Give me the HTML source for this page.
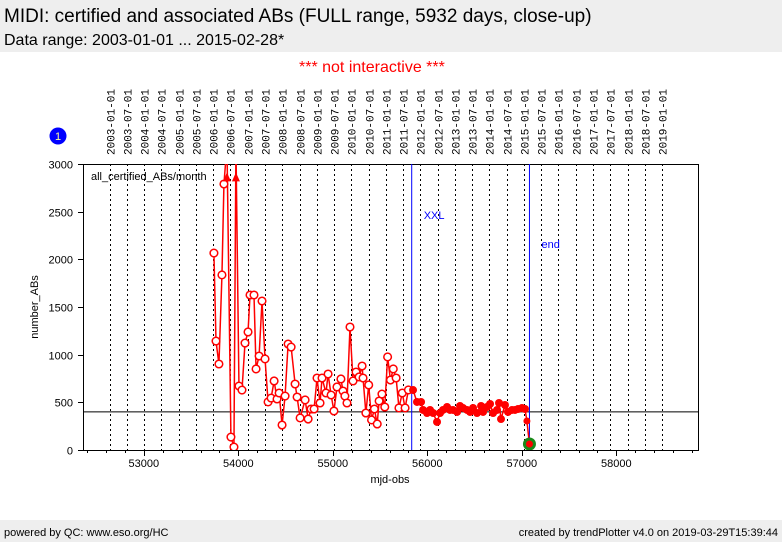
<!DOCTYPE html>
<html><head><meta charset="utf-8"><style>
body{margin:0;width:782px;height:542px;background:#fff;overflow:hidden;font-family:"Liberation Sans",sans-serif;position:relative}
.t{position:absolute;white-space:nowrap}
</style></head><body>
<div style="position:absolute;left:0;top:0;width:782px;height:52px;background:#eeeeee"></div>
<div class="t" style="left:4px;top:6px;font-size:19px">MIDI: certified and associated ABs (FULL range, 5932 days, close-up)</div>
<div class="t" style="left:4px;top:32px;font-size:16px">Data range: 2003-01-01 ... 2015-02-28*</div>
<div class="t" style="left:299px;top:59px;font-size:16px;color:#ff0000">*** not interactive ***</div>
<div style="position:absolute;left:0;top:520px;width:782px;height:22px;background:#eeeeee"></div>
<div class="t" style="left:4px;top:527px;font-size:11px">powered by QC: www.eso.org/HC</div>
<div class="t" style="right:4px;top:527px;font-size:11px">created by trendPlotter v4.0 on 2019-03-29T15:39:44</div>
<svg id="chart" width="782" height="542" style="position:absolute;left:0;top:0" font-family="Liberation Sans, sans-serif"></svg>
<script>
const openMjd=[53742,53764,53795,53827,53848,53880,53922,53954,53975,54007,54039,54071,54103,54124,54166,54188,54220,54251,54283,54315,54347,54379,54410,54432,54463,54495,54527,54559,54601,54622,54654,54707,54739,54770,54802,54833,54865,54886,54928,54950,54982,55012,55044,55086,55108,55128,55150,55182,55214,55246,55278,55310,55320,55350,55380,55410,55440,55470,55490,55520,55550,55580,55610,55640,55670,55700,55735,55765,55800];
const openVal=[2066,1143,902,1836,2790,3200,136,31,3200,671,629,1122,1238,1626,1626,850,986,1563,955,504,545,724,535,598,262,566,1112,1080,692,556,336,525,325,430,430,755,493,755,598,797,577,409,661,745,619,566,493,1290,724,818,766,881,755,388,682,315,430,273,514,587,451,976,734,850,755,441,598,441,630];
const filledMjd=[55849,55891,55934,55955,55997,56029,56061,56103,56135,56166,56209,56240,56272,56315,56346,56378,56420,56452,56484,56526,56569,56590,56632,56664,56696,56738,56759,56780,56822,56854,56896,56928,56960,57002,57034];
const filledVal=[629,504,504,420,388,420,388,294,388,420,451,420,420,399,462,441,420,399,441,388,462,399,451,483,388,420,493,325,472,399,420,420,430,441,430];
const endMjd=[57054,57081];
const endVal=[304,63];
const yTicks=[0,500,1000,1500,2000,2500,3000];
const xTicks=[53000,54000,55000,56000,57000,58000];
const refLine=400;
const xxlMjd=55835, endLineMjd=57081;
const dateLabels=[];for(let y=2003;y<=2019;y++){dateLabels.push(y+"-01-01");if(y<2019)dateLabels.push(y+"-07-01");}

const L=83,R=698,T=164,B=450;
const X=m=>143.8+(m-53000)*0.0945;
const Y=v=>B-v*(B-T)/3000;
const NS="http://www.w3.org/2000/svg";
const svg=document.getElementById('chart');
function el(t,a,p){const e=document.createElementNS(NS,t);for(const k in a)e.setAttribute(k,a[k]);(p||svg).appendChild(e);return e;}
function mjdOf(s){const [y,m,d]=s.split('-').map(Number);return Date.UTC(y,m-1,d)/86400000+40587;}

dateLabels.forEach(s=>{const x=Math.round(X(mjdOf(s)))+0.5;
 const ln=el('line',{x1:x,x2:x,y1:T,y2:B,stroke:'#000','stroke-width':1,'stroke-dasharray':'2,3'});
 
 const t=el('text',{transform:`translate(${x+4},155) rotate(-90)`,'font-size':11,'font-family':'Liberation Mono, monospace'});
 t.textContent=s;});
const fr=el('rect',{x:L+0.5,y:T+0.5,width:R-L,height:B-T,fill:'none',stroke:'#000'});

yTicks.forEach(v=>{const y=Math.round(Y(v))+0.5;el('line',{x1:L-5,x2:L,y1:y,y2:y,stroke:'#000'});
 const t=el('text',{x:73,y:y+4,'text-anchor':'end','font-size':11});t.textContent=v;
 });
for(let m=52400;m<=58800;m+=200){const x=Math.round(X(m))+0.5;if(x<L||x>R)continue;
 const maj=m%1000===0;el('line',{x1:x,x2:x,y1:B,y2:B+(maj?6:3),stroke:'#000'});}
xTicks.forEach(m=>{const t=el('text',{x:X(m),y:467,'text-anchor':'middle','font-size':11});t.textContent=m;
 });
const xl=el('text',{x:390,y:483,'text-anchor':'middle','font-size':11});xl.textContent='mjd-obs';

const yl=el('text',{transform:'translate(38,307) rotate(-90)','text-anchor':'middle','font-size':11});yl.textContent='number_ABs';

const rl=el('line',{x1:L,x2:R,y1:Y(refLine),y2:Y(refLine),stroke:'#000'});

const bl=el('line',{x1:X(xxlMjd),x2:X(xxlMjd),y1:T,y2:B,stroke:'#0000ff'});

const xt=el('text',{x:X(xxlMjd)+12,y:219,fill:'#0000ff','font-size':11});xt.textContent='XXL';

const el2=el('line',{x1:X(endLineMjd),x2:X(endLineMjd),y1:T,y2:B,stroke:'#0000ff'});

const et=el('text',{x:X(endLineMjd)+12,y:248,fill:'#0000ff','font-size':11});et.textContent='end';

const cp=el('clipPath',{id:'clip'});el('rect',{x:L,y:T,width:R-L,height:B-T},cp);
const g=el('g',{'clip-path':'url(#clip)'});
const allM=openMjd.concat(filledMjd,endMjd),allV=openVal.concat(filledVal,endVal);
const pl=el('polyline',{points:allM.map((m,i)=>X(m)+','+Y(allV[i])).join(' '),fill:'none',stroke:'#ff0000','stroke-width':1.5},g);

openMjd.forEach((m,i)=>{const v=openVal[i];
 if(v>3000){const x=X(m),y=Y(2860);const a=el('polygon',{points:`${x-4},${y+4} ${x+4},${y+4} ${x},${y-5}`,fill:'#ff0000'},g);
  return;}
 const c=el('circle',{cx:X(m),cy:Y(v),r:3.8,fill:'#fff',stroke:'#ff0000','stroke-width':1.5},g);
 });
filledMjd.forEach((m,i)=>{const c=el('circle',{cx:X(m),cy:Y(filledVal[i]),r:4,fill:'#ff0000'},g);
 });
const gc=el('circle',{cx:X(endMjd[1]),cy:Y(endVal[1]),r:6.5,fill:'#1a8a1a'},g);

endMjd.forEach((m,i)=>{const c=el('circle',{cx:X(m),cy:Y(endVal[i]),r:3.5,fill:'#ff0000'},g);
 });
const lt=el('text',{x:91,y:180,'font-size':11});lt.textContent='all_certified_ABs/month';

const bc=el('circle',{cx:58,cy:136,r:8.5,fill:'#0000ff'});
const bt=el('text',{x:58,y:140,'text-anchor':'middle','font-size':11,fill:'#ffff99'});bt.textContent='1';

</script>
</body></html>
